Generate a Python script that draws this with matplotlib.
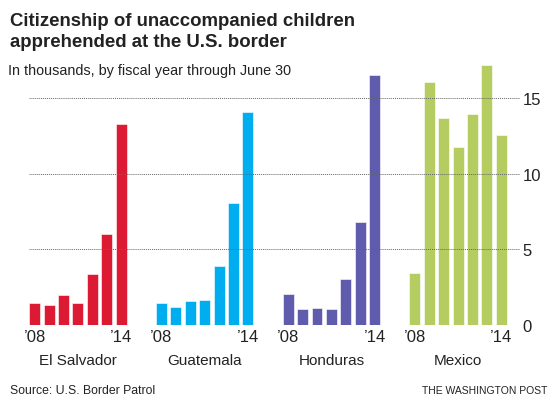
import matplotlib
matplotlib.use("Agg")
import matplotlib.pyplot as plt
import numpy as np

plt.rcParams['font.family'] = ['Liberation Sans', 'DejaVu Sans']

# unaccompanied children apprehended, thousands, FY2008-FY2014
countries = ["El Salvador", "Guatemala", "Honduras", "Mexico"]
el_salvador = [1.43, 1.30, 1.96, 1.43, 3.36, 6.03, 13.29]
guatemala = [1.43, 1.17, 1.57, 1.63, 3.89, 8.08, 14.08]
honduras = [2.03, 1.04, 1.10, 1.04, 3.02, 6.78, 16.53]
mexico = [3.44, 16.09, 13.69, 11.77, 13.95, 17.22, 12.58]
year_labels = ["\u201908", "\u201914"]
colors = ["#DC1A33", "#00AEEF", "#5F5BAD", "#B5CD60"]

series = [el_salvador, guatemala, honduras, mexico]
group_step = 8.8

fig = plt.figure(figsize=(5.56, 4.14), dpi=100)
ax = fig.add_axes([29 / 556, 0.2133, 491 / 556, 0.638])

xticks = []
for g, vals in enumerate(series):
    x = g * group_step + np.arange(len(vals))
    ax.bar(x, vals, width=0.76, color=colors[g], edgecolor="white",
           linewidth=0.4, zorder=2)
    xticks += [x[0], x[-1]]
    ax.text(x.mean(), -0.133, countries[g], transform=ax.get_xaxis_transform(),
            ha="center", va="center", fontsize=11, color="#222222")

for yv in [5, 10, 15]:
    ax.axhline(yv, color="#666666", linestyle=(0, (1, 1)), linewidth=0.7, zorder=3)

ax.set_xlim(-0.4, 33.7)
ax.set_ylim(0, 17.5)
ax.set_yticks([0, 5, 10, 15])
ax.yaxis.tick_right()
ax.tick_params(axis="y", length=0, pad=2, labelsize=12, labelcolor="#222222")
ax.set_xticks(xticks)
ax.set_xticklabels(year_labels * 4)
ax.tick_params(axis="x", length=0, pad=3, labelsize=12, labelcolor="#222222")
for s in ax.spines.values():
    s.set_visible(False)

fig.text(10 / 556, 1 - 13 / 414,
         "Citizenship of unaccompanied children\napprehended at the U.S. border",
         ha="left", va="top", fontsize=13.4, fontweight="bold", color="#222222",
         linespacing=1.3)
fig.text(8 / 556, 1 - 71 / 414, "In thousands, by fiscal year through June 30",
         ha="left", va="center", fontsize=10.4, color="#222222")
fig.text(10 / 556, 1 - 391 / 414, "Source: U.S. Border Patrol",
         ha="left", va="center", fontsize=8.8, color="#222222")
fig.text(547 / 556, 1 - 391 / 414, "THE WASHINGTON POST",
         ha="right", va="center", fontsize=7.5, color="#222222")

fig.savefig("out.png", dpi=100)
